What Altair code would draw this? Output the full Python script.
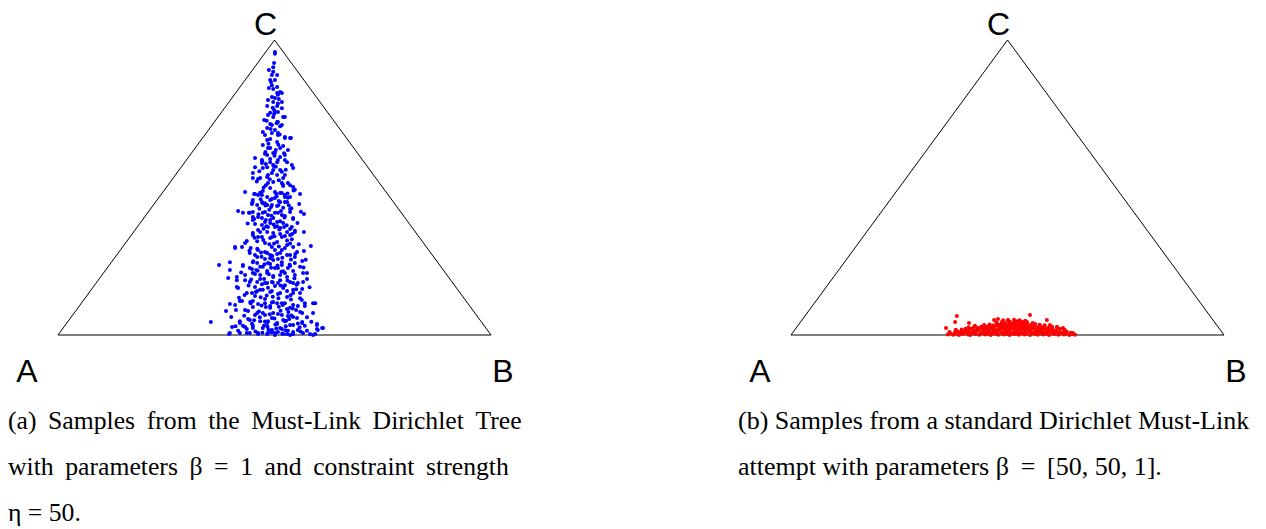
import altair as alt
import pandas as pd

# Sample positions inside the simplex drawing:
#   h = position along the A-B edge (percent of the base, A = 0, B = 100)
#   v = position toward vertex C (percent of the height, base = 0, C = 100)

# Must-Link Dirichlet Tree samples (beta = 1, eta = 50)
tree_h = [
    50.1, 50.1, 49.9, 49.7, 48.7, 49.7, 49.4, 50.1, 49.2, 48.7,
    49.7, 50.6, 51.7, 49.4, 50.1, 51.0, 48.5, 49.7, 48.3, 50.6,
    51.7, 49.9, 50.8, 49.0, 52.4, 49.7, 47.6, 50.6, 49.0, 51.3,
    48.3, 50.1, 49.4, 50.8, 47.8, 52.4, 53.8, 49.0, 50.6, 47.3,
    52.0, 48.5, 50.3, 49.7, 53.1, 47.8, 51.3, 45.5, 49.0, 50.6,
    52.4, 47.1, 54.0, 49.7, 48.3, 45.5, 54.3, 51.3, 49.4, 50.6,
    45.0, 48.3, 52.0, 46.2, 45.0, 53.1, 49.7, 48.0, 54.3, 49.0,
    54.7, 47.3, 43.2, 50.1, 51.7, 45.5, 46.2, 55.9, 48.3, 52.4,
    53.6, 49.4, 45.0, 51.0, 47.1, 52.9, 55.7, 47.8, 46.0, 50.6,
    49.2, 52.0, 53.6, 41.6, 45.0, 44.1, 47.3, 50.8, 56.8, 48.5,
    52.4, 46.2, 49.7, 45.3, 54.3, 51.3, 47.8, 49.0, 45.5, 50.6,
    52.2, 53.6, 54.7, 56.8, 46.2, 48.3, 49.7, 51.3, 45.0, 52.4,
    47.1, 49.0, 54.0, 43.6, 43.2, 50.6, 47.8, 52.9, 58.4, 40.9,
    42.5, 49.4, 54.3, 46.0, 51.7, 44.3, 56.8, 48.3, 50.6, 52.9,
    46.0, 54.7, 47.8, 49.7, 39.7, 45.0, 51.7, 56.4, 49.0, 37.2,
    42.7, 46.7, 53.6, 50.8, 44.8, 39.7, 48.3, 54.3, 52.4, 56.6,
    43.2, 45.5, 49.7, 39.3, 41.3, 57.5, 46.7, 51.3, 44.3, 53.6,
    48.3, 55.4, 50.1, 41.3, 45.5, 52.0, 56.4, 46.7, 49.0, 54.3,
    43.6, 50.8, 45.5, 52.9, 55.9, 47.8, 42.0, 39.7, 40.9, 58.9,
    49.7, 51.7, 46.2, 54.3, 45.0, 49.0, 52.9, 43.2, 38.8, 58.9,
    55.9, 47.3, 50.8, 45.5, 40.0, 54.3, 49.4, 52.0, 43.9, 46.7,
    35.3, 42.0, 56.4, 48.3, 50.6, 59.8, 53.6, 45.0, 57.0, 40.2,
    43.2, 61.0, 59.8, 47.3, 51.7, 49.4, 54.3, 46.2, 39.5, 44.3,
    42.0, 52.9, 56.6, 58.2, 58.9, 48.5, 50.1, 53.6,
    45.3, 47.1, 48.5, 51.7, 53.6, 52.4, 51.3, 50.1, 49.0, 47.3,
    48.3, 49.4, 51.3, 52.4, 44.8, 42.7, 44.3, 45.0, 47.8, 50.1,
    51.7, 53.6, 54.3, 47.1, 49.0, 50.6, 52.0, 45.0, 47.1, 48.5,
    50.1, 51.3, 54.0, 45.0, 46.7, 52.9, 54.7, 46.2, 49.4, 51.7,
    53.6,
    41.6, 44.8, 46.0, 47.3, 49.4, 51.3, 52.9, 54.3, 55.9, 42.5,
    41.1, 43.9, 45.0, 47.8, 49.0, 50.6, 52.4, 53.6, 55.4, 57.0,
    59.4, 46.0, 47.8, 49.7, 51.7, 53.1, 55.2, 56.4, 42.0, 44.3,
    48.5, 50.6, 52.4, 54.3, 56.4, 42.7, 45.0, 49.4, 51.3, 53.1,
    55.4, 57.5, 59.8, 61.2, 60.0, 39.7, 41.6, 43.6, 46.2, 48.3,
    50.1, 52.0, 54.3, 59.4,
    40.9, 45.5, 46.2, 47.8, 49.0, 50.1, 51.3, 52.4, 53.6, 55.2,
    42.7, 44.3, 46.0, 47.3, 48.5, 50.1, 51.7, 53.1, 54.7, 55.9,
    45.0, 46.7, 48.3, 49.7, 51.3, 52.9, 54.7, 41.3, 43.2, 46.0,
    47.8, 49.4, 50.8, 52.4, 54.3, 56.6, 57.5,
    48.5, 50.1, 52.0, 50.8, 49.4, 51.7, 47.3, 50.8, 52.4, 53.6,
    48.3, 49.0, 51.3, 50.1, 48.3, 52.4, 47.1, 49.0, 50.8, 52.9,
    47.3, 49.7, 51.7, 48.5, 52.4, 46.7,
    50.6, 49.0, 49.4, 50.6, 51.3, 50.8, 51.7,
    48.0, 50.3, 46.5, 51.0, 47.5, 52.0, 50.5, 46.8, 53.0, 48.8,
    51.5, 46.5, 53.3, 49.8, 47.5, 52.8, 46.0, 48.8, 51.0, 53.6,
    44.5, 47.0, 50.8, 53.8, 45.8, 49.2, 52.0, 47.6, 53.0, 44.0,
    48.5, 51.4, 55.0, 46.8, 49.6, 53.8, 44.5, 48.0, 51.0, 55.0,
    43.0, 46.6, 50.0, 53.4, 57.5, 44.8, 47.6, 52.6, 55.8, 48.6,
    43.6, 50.8, 56.0, 41.0, 58.5, 45.6, 53.2, 49.0, 50.0, 48.0,
    47.2, 49.8, 52.6, 45.9, 48.9, 51.9, 54.4, 46.7, 50.4, 53.1,
    44.9, 47.9, 50.9, 53.9, 56.1, 46.3, 49.3, 52.3, 55.3, 43.8,
    48.1, 51.1, 54.1, 45.4, 47.4, 49.9, 52.9, 55.6, 44.2, 46.9,
    49.5, 51.8, 54.8, 57.2, 45.1, 47.7, 50.7, 53.5, 56.7, 42.3,
    46.1, 48.7, 51.6, 54.6, 44.6, 47.1, 49.6, 52.1, 55.1, 58.1,
    43.1, 45.7, 48.2, 50.9, 53.7, 56.3, 41.8, 44.4, 47.0, 49.4,
    51.9, 54.2, 57.0, 46.4, 48.9, 51.4, 53.9, 45.3, 47.8, 50.2,
    52.7, 55.4, 48.4, 50.4, 52.5, 47.2, 49.3, 51.8, 48.6, 50.9,
    47.9, 50.0, 52.2, 49.1, 51.2, 48.2, 50.5, 49.6, 50.8, 49.9,
]
tree_v = [
    95.9, 95.3, 92.2, 90.8, 89.8, 89.2, 88.1, 86.4, 85.8, 83.7,
    83.4, 82.0, 82.0, 80.7, 80.3, 80.0, 79.7, 79.0, 77.6, 77.6,
    76.9, 76.3, 75.6, 75.3, 73.9, 73.9, 72.9, 72.2, 71.5, 70.8,
    70.2, 69.5, 68.5, 68.5, 67.8, 67.1, 66.8, 66.4, 65.4, 64.4,
    64.1, 63.4, 62.7, 61.7, 62.7, 61.4, 60.3, 60.0, 59.7, 58.6,
    59.3, 58.3, 57.6, 57.6, 56.9, 56.9, 56.6, 55.9, 54.9, 54.2,
    54.9, 53.6, 53.2, 52.9, 53.2, 51.5, 51.9, 50.8, 50.2, 49.8,
    49.2, 48.8, 48.5, 48.5, 48.1, 47.8, 47.5, 47.8, 46.8, 46.8,
    46.8, 46.1, 45.8, 45.4, 45.1, 45.1, 44.4, 44.7, 44.1, 43.7,
    43.4, 43.1, 42.7, 42.0, 41.7, 41.4, 41.4, 41.4, 41.0, 40.7,
    40.3, 40.0, 39.7, 39.3, 39.3, 38.6, 38.3, 38.0, 37.6, 36.9,
    36.6, 35.9, 35.3, 34.9, 35.6, 34.9, 34.6, 34.2, 33.9, 33.6,
    33.2, 32.9, 32.5, 31.9, 31.2, 31.5, 31.2, 30.5, 30.2, 29.5,
    29.8, 29.8, 29.8, 29.2, 28.8, 27.8, 28.5, 27.8, 27.5, 27.1,
    26.4, 26.4, 25.8, 25.4, 24.7, 24.7, 24.7, 25.1, 24.1, 23.7,
    23.4, 23.1, 23.4, 22.7, 22.4, 22.0, 21.7, 21.7, 21.0, 21.0,
    20.3, 20.7, 20.0, 19.3, 19.7, 19.0, 19.0, 18.6, 18.0, 18.0,
    17.6, 17.6, 16.6, 16.3, 16.3, 15.9, 15.6, 15.3, 14.6, 14.2,
    14.2, 13.9, 13.2, 12.9, 12.5, 12.2, 11.5, 10.5, 10.2, 10.8,
    11.2, 10.8, 10.5, 10.2, 9.5, 9.2, 8.8, 8.5, 8.1, 7.5,
    7.8, 7.5, 7.1, 6.8, 6.1, 6.1, 5.8, 5.1, 5.4, 4.7,
    4.4, 4.1, 4.4, 4.1, 3.7, 3.7, 3.4, 3.1, 3.1, 2.7,
    2.7, 2.4, 2.0, 2.4, 2.0, 1.4, 1.0, 0.7, 0.3, 0.7,
    0.7, 0.3, 0.7, 0.3, 0.0, 0.7, 0.0, 0.0,
    47.8, 47.5, 51.5, 51.5, 50.8, 47.5, 48.1, 46.4, 45.8, 44.7,
    44.1, 44.1, 45.1, 45.1, 44.4, 41.4, 41.4, 40.0, 41.7, 41.4,
    40.7, 41.7, 39.7, 39.7, 39.0, 38.3, 38.0, 39.0, 37.3, 36.6,
    36.6, 36.3, 36.6, 34.6, 34.9, 34.9, 34.9, 33.2, 33.2, 33.2,
    33.9,
    15.9, 14.2, 14.9, 15.3, 14.9, 14.2, 14.9, 15.3, 14.2, 11.5,
    8.5, 8.1, 11.5, 10.8, 9.8, 10.8, 10.8, 9.2, 9.8, 10.8,
    10.8, 7.5, 6.8, 7.5, 6.8, 6.4, 5.8, 7.5, 4.7, 5.1,
    4.7, 4.1, 4.7, 3.4, 4.1, 3.1, 2.4, 1.7, 2.4, 1.4,
    1.7, 1.4, 3.4, 2.4, 1.7, 0.7, 1.4, 0.7, 0.3, 0.3,
    0.7, 0.3, 0.3, 0.3,
    29.8, 27.1, 28.8, 28.1, 27.1, 28.8, 27.8, 29.5, 27.1, 28.1,
    23.7, 22.7, 24.4, 23.1, 24.4, 22.7, 23.7, 22.7, 24.4, 23.1,
    21.0, 20.3, 21.0, 19.7, 20.3, 19.7, 20.3, 18.6, 18.6, 18.0,
    17.6, 18.0, 17.6, 16.9, 17.6, 18.0, 21.0,
    74.6, 75.6, 73.9, 72.2, 71.2, 71.2, 68.8, 67.8, 66.8, 66.8,
    66.1, 63.4, 63.4, 61.7, 61.0, 61.0, 59.3, 58.6, 59.3, 58.6,
    56.6, 55.9, 55.3, 54.2, 54.2, 53.2,
    88.1, 86.4, 84.7, 84.1, 82.4, 81.4, 79.0,
    58.0, 57.0, 55.5, 52.5, 50.0, 50.5, 47.0, 46.0, 48.0, 42.5,
    42.0, 42.8, 44.0, 37.5, 36.0, 37.2, 31.8, 30.8, 30.0, 31.0,
    29.5, 26.5, 25.8, 25.6, 22.0, 22.8, 21.6, 19.0, 18.5, 16.8,
    16.0, 16.8, 15.5, 12.8, 13.0, 12.0, 10.8, 9.5, 9.6, 8.5,
    6.5, 6.0, 5.6, 5.4, 6.0, 3.8, 3.2, 3.0, 2.6, 1.8,
    2.0, 1.0, 1.2, 3.0, 4.5, 1.2, 7.8, 26.0, 33.5, 39.0,
    58.8, 57.3, 56.0, 52.0, 52.8, 51.0, 49.0, 48.2, 47.9, 46.5,
    45.0, 43.9, 44.0, 43.0, 41.8, 40.9, 40.4, 39.8, 38.0, 37.8,
    36.9, 35.8, 34.2, 33.0, 32.2, 31.0, 32.0, 30.8, 28.6, 28.0,
    26.8, 26.2, 27.5, 25.5, 25.0, 24.0, 23.6, 23.8, 22.9, 21.2,
    21.8, 20.6, 21.4, 19.2, 18.8, 17.2, 17.8, 16.4, 17.0, 16.2,
    13.6, 14.6, 13.4, 12.5, 13.5, 11.9, 12.6, 11.2, 10.0, 11.0,
    10.2, 9.0, 9.8, 8.0, 7.0, 8.2, 6.6, 5.0, 4.6, 3.6,
    4.8, 3.9, 2.8, 2.2, 1.6, 0.8, 0.9, 0.5, 64.8, 64.5,
    62.0, 60.8, 61.6, 69.8, 68.0, 72.6, 71.8, 77.0, 78.5, 74.9,
]

# Standard Dirichlet samples (beta = [50, 50, 1])
std_h = [
    36.2, 36.9, 37.5, 38.3, 38.8, 39.6, 40.1, 40.9, 41.4, 42.2,
    42.7, 43.5, 44.0, 44.8, 45.3, 46.1, 46.6, 47.4, 47.9, 48.7,
    49.2, 50.0, 50.5, 51.3, 51.8, 52.6, 53.1, 53.9, 54.4, 55.2,
    55.7, 56.5, 57.0, 57.8, 58.3, 59.1, 59.6, 60.4, 60.9, 61.7,
    62.2, 63.0, 63.5, 64.3, 64.9, 65.6,
    36.6, 37.8, 38.5, 39.2, 40.0, 40.6, 41.3, 42.0, 42.6, 43.3,
    44.1, 44.7, 45.5, 46.2, 46.8, 47.6, 48.2, 48.9, 49.6, 50.3,
    51.0, 51.6, 52.3, 53.0, 53.7, 54.3, 55.1, 55.8, 56.4, 57.1,
    57.9, 58.5, 59.2, 59.9, 60.6, 61.3, 62.0, 62.8, 63.7, 64.6,
    38.0, 39.4, 40.3, 41.1, 41.8, 42.5, 43.1, 43.9, 44.5, 45.2,
    45.9, 46.5, 47.2, 47.9, 48.6, 49.3, 49.9, 50.6, 51.4, 52.0,
    52.7, 53.4, 54.0, 54.8, 55.4, 56.1, 56.9, 57.5, 58.2, 58.9,
    59.6, 60.4, 61.2, 62.1, 63.2,
    41.0, 42.3, 43.2, 44.0, 44.8, 45.5, 46.3, 47.0, 47.7, 48.4,
    49.1, 49.8, 50.5, 51.2, 51.9, 52.6, 53.3, 54.0, 54.7, 55.5,
    56.2, 56.9, 57.7, 58.5, 59.4, 60.3, 61.5,
    44.6, 45.9, 46.8, 47.6, 48.3, 49.0, 49.7, 50.4, 51.1, 51.8,
    52.5, 53.2, 53.9, 54.7, 55.5, 56.4, 57.4, 58.6,
    47.5, 48.7, 49.6, 50.5, 51.6, 52.4, 53.3, 54.5, 55.8,
    49.0, 50.2, 51.5, 52.8, 54.1,
    35.8, 37.9, 38.3, 38.1, 41.1, 42.5, 46.9, 47.8, 50.1, 52.0,
    53.6, 55.2, 59.1, 59.8, 61.4, 62.8, 65.1,
]
std_v = [
    0.2, 0.5, 0.1, 0.4, 0.0, 0.3, 0.6, 0.2, 0.0, 0.5,
    0.3, 0.1, 0.6, 0.2, 0.4, 0.0, 0.5, 0.3, 0.1, 0.6,
    0.2, 0.4, 0.0, 0.5, 0.3, 0.1, 0.6, 0.2, 0.4, 0.0,
    0.5, 0.3, 0.1, 0.6, 0.2, 0.4, 0.0, 0.5, 0.3, 0.1,
    0.6, 0.2, 0.4, 0.0, 0.3, 0.1,
    1.0, 0.8, 1.2, 0.9, 1.3, 1.1, 0.8, 1.2, 1.0, 1.4,
    0.9, 1.1, 1.3, 0.8, 1.2, 1.0, 1.4, 0.9, 1.1, 1.3,
    0.8, 1.2, 1.0, 1.4, 0.9, 1.1, 1.3, 0.8, 1.2, 1.0,
    1.4, 0.9, 1.1, 1.3, 0.8, 1.2, 1.0, 0.9, 1.1, 0.8,
    1.7, 1.9, 2.1, 1.8, 2.2, 1.6, 2.0, 2.3, 1.8, 2.1,
    1.9, 2.2, 1.7, 2.0, 2.3, 1.8, 2.1, 1.9, 2.2, 1.7,
    2.0, 2.3, 1.8, 2.1, 1.9, 2.2, 1.7, 2.0, 2.3, 1.8,
    2.1, 1.9, 1.7, 2.0, 1.8,
    2.6, 2.8, 2.5, 2.9, 2.7, 3.0, 2.6, 2.8, 3.1, 2.7,
    2.9, 2.5, 3.0, 2.8, 2.6, 3.1, 2.7, 2.9, 2.5, 3.0,
    2.8, 2.6, 2.9, 2.7, 2.5, 2.8, 2.6,
    3.4, 3.6, 3.3, 3.7, 3.5, 3.8, 3.4, 3.6, 3.9, 3.5,
    3.7, 3.3, 3.8, 3.6, 3.4, 3.7, 3.5, 3.3,
    4.2, 4.4, 4.1, 4.5, 4.3, 4.6, 4.2, 4.4, 4.1,
    5.0, 4.9, 5.2, 5.0, 4.8,
    2.4, 4.4, 6.4, 1.7, 4.1, 3.1, 5.1, 5.4, 5.1, 4.7,
    4.4, 6.8, 5.1, 3.4, 2.7, 2.4, 0.7,
]

# Simplex outline A -> B -> C -> A
edge_h = [0, 100, 50, 0]
edge_v = [0, 0, 100, 0]

# Caption lines; the thin spaces stand in for justified word spacing
TS = "\u2009"
captions_a = [
    f" {TS}".join("(a) Samples from the Must-Link Dirichlet Tree".split(" ")),
    f" {TS}".join("with parameters β = 1 and constraint strength".split(" ")),
    "η = 50.",
]
captions_b = [
    "(b) Samples from a standard Dirichlet Must-Link",
    f"attempt with parameters β {TS}={TS} [50, 50, 1].",
]

W, H = 1266, 529
Y_RANGE = [335, 40]          # base line to apex, in canvas pixels
one = alt.Data(values=[{}])


def simplex_panel(h, v, color, x_range, caption, left, cap_size):
    """One triangle with its samples, vertex names and caption."""
    xs = alt.Scale(domain=[0, 100], range=x_range, nice=False, zero=False)
    ys = alt.Scale(domain=[0, 100], range=Y_RANGE, nice=False, zero=False)
    pts = pd.DataFrame({"h": h, "v": v})
    outline = pd.DataFrame({"h": edge_h, "v": edge_v, "o": list(range(len(edge_h)))})

    frame = alt.Chart(outline).mark_line(color="black", strokeWidth=1).encode(
        x=alt.X("h:Q", scale=xs, axis=None),
        y=alt.Y("v:Q", scale=ys, axis=None),
        order="o:O",
    )
    dots = alt.Chart(pts).mark_circle(size=16, color=color, opacity=1).encode(
        x=alt.X("h:Q", scale=xs, axis=None),
        y=alt.Y("v:Q", scale=ys, axis=None),
    )
    x0, x1 = x_range
    vfont = dict(font="Liberation Sans", fontSize=32, baseline="middle", align="center")
    lab_a = alt.Chart(one).mark_text(**vfont).encode(
        x=alt.value(x0 - 31), y=alt.value(372), text=alt.value("A"))
    lab_b = alt.Chart(one).mark_text(**vfont).encode(
        x=alt.value(x1 + 12), y=alt.value(372), text=alt.value("B"))
    lab_c = alt.Chart(one).mark_text(**vfont).encode(
        x=alt.value((x0 + x1) / 2 - 9), y=alt.value(25), text=alt.value("C"))
    cap = alt.Chart(one).mark_text(
        font="Liberation Serif", fontSize=cap_size, align="left", baseline="alphabetic",
        lineHeight=46, color="black",
    ).encode(x=alt.value(left), y=alt.value(429), text=alt.value(caption))

    return alt.layer(frame, dots, lab_a, lab_b, lab_c, cap)


panel_a = simplex_panel(tree_h, tree_v, "#0000ff", [58, 491], captions_a, 8, 25.7)
panel_b = simplex_panel(std_h, std_v, "#ff0000", [791, 1224], captions_b, 738, 26)

chart = (
    alt.layer(panel_a, panel_b)
    .resolve_scale(x="independent", y="independent")
    .properties(
        width=W,
        height=H,
        autosize=alt.AutoSizeParams(type="none"),
        padding=0,
    )
    .configure_view(stroke=None)
)

chart.save("out.html", embed_options={"renderer": "svg", "actions": False})
